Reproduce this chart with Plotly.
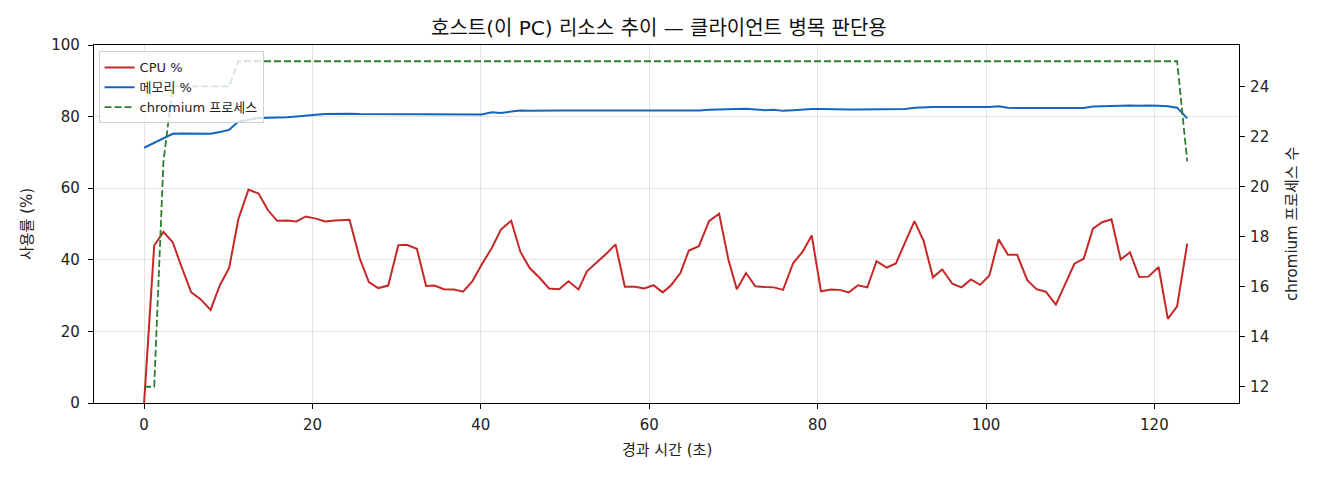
import plotly.graph_objects as go

# 경과 시간 (초) - 샘플 시각
elapsed_s = [
    0.0, 1.2, 2.3, 3.4, 4.5, 5.6, 6.7, 7.9, 9.0, 10.1,
    11.2, 12.4, 13.6, 14.7, 15.8, 17.0, 18.1, 19.2, 20.4, 21.5,
    22.7, 24.4, 25.6, 26.7, 27.8, 29.0, 30.2, 31.2, 32.4, 33.5,
    34.5, 35.6, 36.8, 37.9, 39.0, 40.1, 41.3, 42.4, 43.6, 44.7,
    45.8, 47.0, 48.1, 49.3, 50.4, 51.6, 52.6, 53.7, 54.8, 56.0,
    57.1, 58.3, 59.4, 60.5, 61.6, 62.6, 63.7, 64.7, 65.9, 67.1,
    68.3, 69.4, 70.4, 71.5, 72.6, 73.7, 74.8, 75.9, 77.1, 78.2,
    79.3, 80.4, 81.6, 82.6, 83.7, 84.8, 85.9, 87.0, 88.2, 89.3,
    90.4, 91.5, 92.6, 93.7, 94.8, 96.0, 97.1, 98.2, 99.3, 100.4,
    101.5, 102.6, 103.7, 104.9, 106.0, 107.1, 108.3, 109.4, 110.5, 111.6,
    112.7, 113.8, 114.9, 116.0, 117.1, 118.2, 119.3, 120.5, 121.6, 122.7,
    123.9,
]

cpu_pct = [
    0.0, 44.0, 47.8, 44.9, 37.7, 30.9, 29.0, 26.0, 32.9, 37.7,
    51.4, 59.6, 58.5, 53.9, 50.9, 51.0, 50.7, 52.1, 51.5, 50.7,
    51.0, 51.2, 40.5, 33.8, 32.1, 32.8, 44.1, 44.2, 43.1, 32.7,
    32.8, 31.8, 31.7, 31.1, 34.0, 38.7, 43.3, 48.5, 50.9, 42.2,
    37.7, 34.9, 32.0, 31.8, 34.0, 31.7, 36.8, 39.1, 41.5, 44.3,
    32.5, 32.5, 32.0, 32.9, 30.9, 32.9, 36.3, 42.6, 43.8, 50.8,
    52.9, 40.1, 31.8, 36.3, 32.6, 32.4, 32.3, 31.6, 39.1, 42.2,
    46.8, 31.2, 31.7, 31.6, 30.9, 32.9, 32.3, 39.6, 37.8, 39.0,
    44.9, 50.8, 45.2, 35.1, 37.3, 33.3, 32.3, 34.5, 33.0, 35.6,
    45.7, 41.4, 41.4, 34.3, 31.8, 31.1, 27.5, 33.3, 38.9, 40.3,
    48.7, 50.5, 51.3, 40.1, 42.1, 35.2, 35.3, 38.0, 23.5, 27.0,
    44.5,
]

mem_pct = [
    71.3, 72.7, 74.0, 75.2, 75.3, 75.3, 75.2, 75.2, 75.7, 76.3,
    78.6, 79.2, 79.6, 79.7, 79.7, 79.8, 80.0, 80.3, 80.5, 80.7,
    80.8, 80.8, 80.7, 80.7, 80.6, 80.6, 80.7, 80.7, 80.7, 80.8,
    80.7, 80.7, 80.7, 80.7, 80.6, 80.6, 81.2, 81.0, 81.4, 81.7,
    81.6, 81.7, 81.7, 81.7, 81.7, 81.6, 81.7, 81.7, 81.7, 81.7,
    81.7, 81.6, 81.7, 81.7, 81.6, 81.7, 81.6, 81.7, 81.7, 81.9,
    82.0, 82.0, 82.0, 82.2, 82.0, 81.8, 81.9, 81.6, 81.8, 82.0,
    82.1, 82.1, 82.0, 82.0, 82.0, 82.0, 82.0, 82.1, 82.1, 82.1,
    82.1, 82.5, 82.7, 82.7, 82.7, 82.7, 82.7, 82.7, 82.6, 82.7,
    82.9, 82.5, 82.4, 82.4, 82.3, 82.3, 82.4, 82.4, 82.2, 82.4,
    82.8, 82.9, 83.0, 83.0, 83.1, 83.0, 83.1, 83.0, 82.9, 82.5,
    79.5,
]

chromium_procs = [
    12, 12, 21, 24, 24, 24, 24, 24, 24, 24,
    25, 25, 25, 25, 25, 25, 25, 25, 25, 25,
    25, 25, 25, 25, 25, 25, 25, 25, 25, 25,
    25, 25, 25, 25, 25, 25, 25, 25, 25, 25,
    25, 25, 25, 25, 25, 25, 25, 25, 25, 25,
    25, 25, 25, 25, 25, 25, 25, 25, 25, 25,
    25, 25, 25, 25, 25, 25, 25, 25, 25, 25,
    25, 25, 25, 25, 25, 25, 25, 25, 25, 25,
    25, 25, 25, 25, 25, 25, 25, 25, 25, 25,
    25, 25, 25, 25, 25, 25, 25, 25, 25, 25,
    25, 25, 25, 25, 25, 25, 25, 25, 25, 25,
    21,
]

FONT = "DejaVu Sans, Noto Sans CJK KR, sans-serif"
GRID = "rgba(0,0,0,0.10)"
INK = "#222222"

fig = go.Figure()

fig.add_trace(go.Scatter(
    x=elapsed_s, y=cpu_pct, mode="lines", name="CPU %",
    line=dict(color="#c62828", width=2),
))
fig.add_trace(go.Scatter(
    x=elapsed_s, y=mem_pct, mode="lines", name="메모리 %",
    line=dict(color="#1565c0", width=2),
))
fig.add_trace(go.Scatter(
    x=elapsed_s, y=chromium_procs, mode="lines", name="chromium 프로세스",
    line=dict(color="#2e7d32", width=1.8, dash="7px,3px"),
    yaxis="y2",
))

# 페이지 body 기본 여백(8px)을 감안한 여백
fig.update_layout(
    width=1320, height=480,
    paper_bgcolor="white", plot_bgcolor="white",
    font=dict(family=FONT, size=16, color=INK),
    margin=dict(l=86, r=89, t=37, b=85),
    xaxis=dict(
        range=[-5.95, 130.05], dtick=20, tick0=0,
        showgrid=True, gridcolor=GRID, zeroline=False,
        showline=True, linecolor="black", linewidth=1.2, mirror=True,
        ticks="outside", ticklen=5, tickcolor="black",
        tickfont=dict(size=15), ticklabelstandoff=3,
    ),
    yaxis=dict(
        range=[0, 100], dtick=20,
        showgrid=True, gridcolor=GRID, zeroline=False,
        showline=True, linecolor="black", linewidth=1.2,
        ticks="outside", ticklen=5, tickcolor="black",
        tickfont=dict(size=15), ticklabelstandoff=5,
    ),
    yaxis2=dict(
        overlaying="y", side="right",
        range=[11.35, 25.65], dtick=2, tick0=12,
        showgrid=False, zeroline=False,
        showline=True, linecolor="black", linewidth=1.2,
        ticks="outside", ticklen=5, tickcolor="black",
        tickfont=dict(size=15), ticklabelstandoff=2,
    ),
    legend=dict(
        x=0.004, y=0.982, xanchor="left", yanchor="top",
        bgcolor="rgba(255,255,255,0.8)",
        bordercolor="#d0d0d0", borderwidth=1,
        font=dict(size=13),
        itemwidth=30,
        tracegroupgap=0,
    ),
    showlegend=True,
)

# 제목과 축 제목
fig.add_annotation(
    text="호스트(이 PC) 리소스 추이 — 클라이언트 병목 판단용",
    xref="paper", yref="paper", x=0.5, y=1, xshift=-8, yshift=17,
    xanchor="center", yanchor="middle", showarrow=False,
    font=dict(size=20, color="#111111"),
)
fig.add_annotation(
    text="경과 시간 (초)",
    xref="paper", yref="paper", x=0.5, y=0, yshift=-47,
    xanchor="center", yanchor="middle", showarrow=False,
    font=dict(size=15),
)
fig.add_annotation(
    text="사용률 (%)",
    xref="paper", yref="paper", x=0, y=0.5, xshift=-67,
    xanchor="center", yanchor="middle", showarrow=False, textangle=-90,
    font=dict(size=15),
)
fig.add_annotation(
    text="chromium 프로세스 수",
    xref="paper", yref="paper", x=1, y=0.5, xshift=53,
    xanchor="center", yanchor="middle", showarrow=False, textangle=-90,
    font=dict(size=15),
)

fig.write_html("out.html")
